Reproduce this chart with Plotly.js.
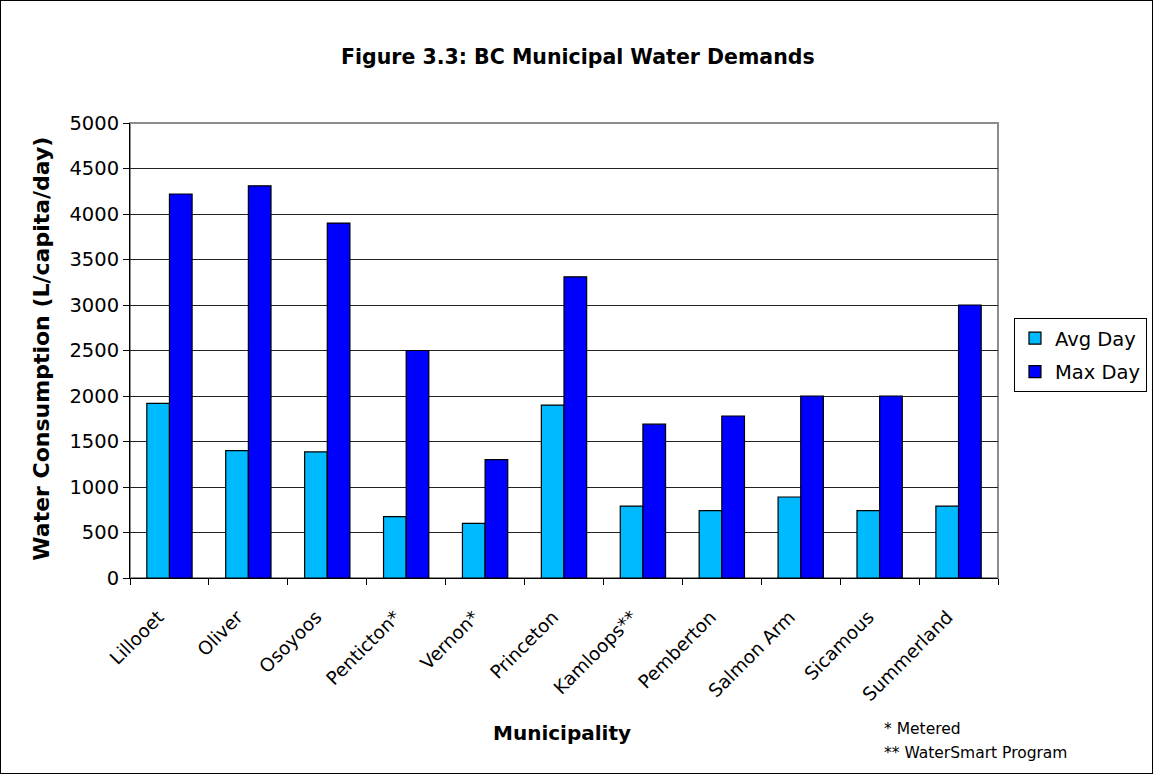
<!DOCTYPE html>
<html>
<head>
<meta charset="utf-8">
<script src="https://cdn.plot.ly/plotly-3.0.1.min.js"></script>
<style>
  html, body { margin: 0; padding: 0; background: #fff; }
  #wrap { position: relative; width: 1154px; height: 775px; }
  #chart { width: 1154px; height: 775px; }
  #frame { position: absolute; left: 0; top: 0; width: 1153px; height: 774px; box-sizing: border-box; border: 1px solid #000; pointer-events: none; }
</style>
</head>
<body>
<div id="wrap">
  <div id="chart"></div>
  <div id="frame"></div>
</div>
<script>
const municipalities = ["Lillooet", "Oliver", "Osoyoos", "Penticton*", "Vernon*", "Princeton", "Kamloops**", "Pemberton", "Salmon Arm", "Sicamous", "Summerland"];
const avgDay = [1920, 1400, 1385, 675, 600, 1900, 790, 740, 890, 740, 790];
const maxDay = [4220, 4310, 3900, 2500, 1300, 3310, 1690, 1780, 2000, 2000, 3000];
const yTicks = [0, 500, 1000, 1500, 2000, 2500, 3000, 3500, 4000, 4500, 5000];

const FONT = "DejaVu Sans, Arial, sans-serif";

const traces = [
  {
    type: "bar", name: "Avg Day", x: municipalities, y: avgDay, legendgroup: "a",
    marker: { color: "#00BAFF", line: { color: "#000", width: 1.2 } }
  },
  {
    type: "bar", name: "Max Day", x: municipalities, y: maxDay, legendgroup: "b",
    marker: { color: "#0000FF", line: { color: "#000", width: 1.2 } }
  }
];

const layout = {
  width: 1154, height: 775,
  margin: { l: 130, r: 156, t: 123, b: 197, pad: 0, autoexpand: false },
  paper_bgcolor: "#fff", plot_bgcolor: "#fff",
  font: { family: FONT, size: 19.5, color: "#000" },
  barmode: "group", bargap: 0.426, bargroupgap: 0,
  showlegend: true,
  legend: {
    x: 1.0184, y: 0.5714, xanchor: "left", yanchor: "top",
    bordercolor: "#000", borderwidth: 1, bgcolor: "#fff",
    font: { family: FONT, size: 19.5, color: "#000" },
    tracegroupgap: 5, traceorder: "grouped"
  },
  xaxis: {
    type: "category", tickangle: -45, tickson: "boundaries",
    ticks: "outside", ticklen: 6, tickcolor: "#000", tickwidth: 1,
    ticklabelshift: -11, ticklabelstandoff: 20,
    showline: true, linecolor: "#000", linewidth: 1,
    showgrid: false, zeroline: false,
    tickfont: { family: FONT, size: 18.5, color: "#000" },
    fixedrange: true
  },
  yaxis: {
    range: [0, 5000], tickvals: yTicks, ticktext: yTicks.map(String),
    ticks: "outside", ticklen: 6, tickcolor: "#000", tickwidth: 1,
    showline: true, linecolor: "#000", linewidth: 1,
    showgrid: true, gridcolor: "#222", gridwidth: 1, zeroline: false,
    tickfont: { family: FONT, size: 19.5, color: "#000" },
    fixedrange: true
  },
  shapes: [
    { type: "rect", xref: "paper", yref: "paper", x0: 0, x1: 1, y0: 0, y1: 1,
      line: { color: "#8c8c8c", width: 2 }, layer: "below" }
  ],
  annotations: [
    { text: "<b>Figure 3.3: BC Municipal Water Demands</b>", xref: "paper", yref: "paper",
      x: 0.516, y: 1.145, xanchor: "center", yanchor: "middle", showarrow: false,
      font: { family: FONT, size: 20.5, color: "#000" } },
    { text: "<b>Water Consumption (L/capita/day)</b>", xref: "paper", yref: "paper",
      x: -0.102, y: 0.505, xanchor: "center", yanchor: "middle", textangle: -90, showarrow: false,
      font: { family: FONT, size: 22, color: "#000" } },
    { text: "<b>Municipality</b>", xref: "paper", yref: "paper",
      x: 0.498, y: -0.34, xanchor: "center", yanchor: "middle", showarrow: false,
      font: { family: FONT, size: 20, color: "#000" } },
    { text: "* Metered", xref: "paper", yref: "paper",
      x: 0.866, y: -0.332, xanchor: "left", yanchor: "middle", showarrow: false,
      font: { family: FONT, size: 15.5, color: "#000" } },
    { text: "** WaterSmart Program", xref: "paper", yref: "paper",
      x: 0.866, y: -0.3846, xanchor: "left", yanchor: "middle", showarrow: false,
      font: { family: FONT, size: 15.5, color: "#000" } }
  ]
};

Plotly.newPlot("chart", traces, layout, { displayModeBar: false, staticPlot: true });
</script>
</body>
</html>
